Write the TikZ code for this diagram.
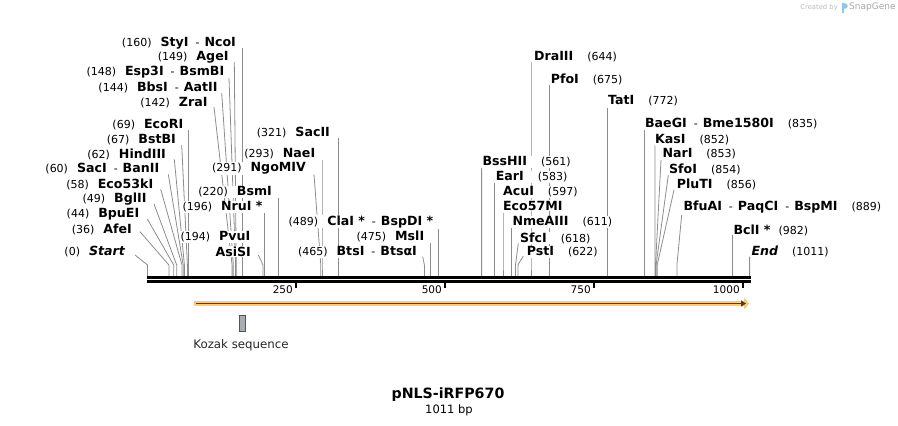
\documentclass[tikz,border=0pt]{standalone}
\usepackage{fontspec}
\setmainfont{DejaVu Sans}
\usetikzlibrary{arrows.meta}
\definecolor{linegray}{RGB}{140,140,140}
\definecolor{featorange}{RGB}{250,204,122}
\definecolor{featdark}{RGB}{80,62,40}
\definecolor{kozakfill}{RGB}{168,173,179}
\definecolor{kozakdraw}{RGB}{80,84,88}
\definecolor{wmgray}{RGB}{185,185,185}
\definecolor{wmblue}{RGB}{140,200,235}
\pgfdeclarelayer{bg}
\pgfsetlayers{bg,main}
\newcommand\nm[1]{{\fontsize{12.6}{14}\selectfont\bfseries #1}}
\newcommand\nmi[1]{{\fontsize{12.6}{14}\selectfont\bfseries\itshape #1}}
\newcommand\nb[1]{{\fontsize{11}{13}\selectfont (#1)}}
\newcommand\lgap{\hspace{9pt}}
\newcommand\rgap{\hspace{14pt}}
\newcommand\sepd{\hspace{7pt}{\fontsize{11}{13}\selectfont -}\hspace{5pt}}
\begin{document}
\begin{tikzpicture}[x=1pt,y=-1pt,
  conn/.style={draw=linegray,line width=0.8pt},
  lab/.style={fill=white,inner sep=0.6pt},
  labl/.style={lab,anchor=east},
  labr/.style={lab,anchor=west},
  ticklab/.style={anchor=east,inner sep=0pt,font=\fontsize{10.5}{12}\selectfont}]
\useasboundingbox (0,0) rectangle (898,426);
% site coordinates
\coordinate (bar) at (0,276);
\foreach \n/\x in {0/147.5,36/168.9,44/173.7,49/176.7,58/182.0,60/183.2,62/184.4,67/187.4,69/188.6,
  142/232.1,144/233.3,148/235.6,149/236.2,160/242.8,194/263.0,196/264.2,220/278.5,291/320.8,293/322.0,
  321/338.7,465/424.4,475/430.4,489/438.7,561/481.6,583/494.7,597/503.0,611/511.4,618/515.5,622/517.9,
  644/531.0,675/549.5,772/607.2,835/644.7,852/654.9,853/655.5,854/656.1,856/657.2,889/676.9,982/732.3,1011/749.6}
  {\coordinate (s\n) at (\x,265);}
% left labels
\node[labl] (L1) at (236.7,42.7) {\nb{160}\lgap\nm{StyI}\sepd\nm{NcoI}};
\node[labl] (L2) at (229.3,57.3) {\nb{149}\lgap\nm{AgeI}};
\node[labl] (L3) at (225,72.3) {\nb{148}\lgap\nm{Esp3I}\sepd\nm{BsmBI}};
\node[labl] (L4) at (218.3,87.3) {\nb{144}\lgap\nm{BbsI}\sepd\nm{AatII}};
\node[labl] (L5) at (208.3,102.3) {\nb{142}\lgap\nm{ZraI}};
\node[labl] (L6) at (184,124.3) {\nb{69}\lgap\nm{EcoRI}};
\node[labl] (L7) at (176.7,139.3) {\nb{67}\lgap\nm{BstBI}};
\node[labl] (L8) at (166.7,154) {\nb{62}\lgap\nm{HindIII}};
\node[labl] (L9) at (160,169) {\nb{60}\lgap\nm{SacI}\sepd\nm{BanII}};
\node[labl] (L10) at (154,184) {\nb{58}\lgap\nm{Eco53kI}};
\node[labl] (L11) at (147.3,199) {\nb{49}\lgap\nm{BglII}};
\node[labl] (L12) at (140,214) {\nb{44}\lgap\nm{BpuEI}};
\node[labl] (L13) at (132.7,229) {\nb{36}\lgap\nm{AfeI}};
\node[labl] (L14) at (125.7,251.7) {\nb{0}\lgap\nmi{Start}};
\node[labl] (M1) at (330.7,132.3) {\nb{321}\lgap\nm{SacII}};
\node[labl] (M2) at (316,154) {\nb{293}\lgap\nm{NaeI}};
\node[labl] (M3) at (306.7,168.3) {\nb{291}\lgap\nm{NgoMIV}};
\node[labl] (M4) at (272.7,191.7) {\nb{220}\lgap\nm{BsmI}};
\node[labl] (M5) at (263.3,206.7) {\nb{196}\lgap\nm{NruI *}};
\node[labl] (M6) at (251,236.7) {\nb{194}\lgap\nm{PvuI}};
\node[labl] (M6b) at (251.7,251.3) {\nm{AsiSI}};
\node[labl] (M7) at (434,221.7) {\nb{489}\lgap\nm{ClaI *}\sepd\nm{BspDI *}};
\node[labl] (M8) at (425,236.7) {\nb{475}\lgap\nm{MslI}};
\node[labl] (M9) at (417.7,251.7) {\nb{465}\lgap\nm{BtsI}\sepd\nm{BtsαI}};
% right labels
\node[labr] (R1) at (533.3,56.7) {\nm{DraIII}\rgap\nb{644}};
\node[labr] (R2) at (550,79) {\nm{PfoI}\rgap\nb{675}};
\node[labr] (R3) at (607.3,101) {\nm{TatI}\rgap\nb{772}};
\node[labr] (R4) at (644.3,123.3) {\nm{BaeGI}\sepd\nm{Bme1580I}\rgap\nb{835}};
\node[labr] (R5) at (654.3,140) {\nm{KasI}\rgap\nb{852}};
\node[labr] (R6) at (661.7,154) {\nm{NarI}\rgap\nb{853}};
\node[labr] (R7) at (668.3,169.3) {\nm{SfoI}\rgap\nb{854}};
\node[labr] (R8) at (676,184) {\nm{PluTI}\rgap\nb{856}};
\node[labr] (R9) at (682.7,207.3) {\nm{BfuAI}\sepd\nm{PaqCI}\sepd\nm{BspMI}\rgap\nb{889}};
\node[labr] (R10) at (732.7,230.7) {\nm{BclI *}\hspace{8pt}\nb{982}};
\node[labr] (R11) at (750.7,251.7) {\nmi{End}\rgap\nb{1011}};
\node[labr] (R12) at (481.7,161.7) {\nm{BssHII}\rgap\nb{561}};
\node[labr] (R13) at (495,176.7) {\nm{EarI}\rgap\nb{583}};
\node[labr] (R14) at (502.3,191.7) {\nm{AcuI}\rgap\nb{597}};
\node[labr] (R14b) at (502.3,205.7) {\nm{Eco57MI}};
\node[labr] (R15) at (511.7,221.7) {\nm{NmeAIII}\rgap\nb{611}};
\node[labr] (R16) at (519.3,238.3) {\nm{SfcI}\rgap\nb{618}};
\node[labr] (R17) at (526,251.7) {\nm{PstI}\rgap\nb{622}};
% connectors (behind labels)
\begin{pgfonlayer}{bg}
\foreach \L/\dx/\dy/\s in {L1/6.1/5.3/160,L2/5/4.7/149,L3/4/5.7/148,L4/3.4/5.7/144,L5/5.7/4.7/142,
  L6/4.6/5.7/69,L7/5/5.7/67,L8/7.6/5.3/62,L9/8.3/5.3/60,L10/6.7/5.3/58,L11/6.7/5/49,L12/7.3/5/44,
  L13/7.3/2.7/36,L14/9.3/3.3/0,M1/8/5.7/321,M2/6/6/293,M3/7.3/6/291,M4/5.8/6.3/220,M5/0.9/6.3/196,
  M6b/6.6/3.7/194,M7/4.7/7.3/489,M8/5.4/6.6/475,M9/5/5/465}
  {\draw[conn] ([xshift=\dx pt,yshift=-\dy pt]\L.east) -- (s\s) -- (s\s |- bar);}
\foreach \R/\dx/\dy/\s in {R1/-2.3/5/644,R2/-0.5/6/675,R3/-0.1/7/772,R4/0.4/7/835,R5/0.6/5/852,
  R6/-0.7/6/853,R7/0/5.7/854,R8/-2/6/856,R9/-1/7.7/889,R10/-0.4/4.3/982,R11/-1.1/5/1011,
  R12/-0.1/6.6/561,R13/-0.3/6.6/583,R14b/0.7/7.6/597,R15/-0.3/6.6/611,R16/-1/5/618,R17/-2.7/4.3/622}
  {\draw[conn] ([xshift=\dx pt,yshift=-\dy pt]\R.west) -- (s\s) -- (s\s |- bar);}
\end{pgfonlayer}
% sequence bar
\draw[line width=3pt] (147,277.5) -- (750.5,277.5);
\draw[line width=2.4pt] (147,281.6) -- (750.5,281.6);
% ticks
\foreach \x/\t in {296.2/250,445.2/500,594.1/750,743.1/1000}{
  \draw[line width=1.8pt] (\x,281) -- (\x,288);
  \node[ticklab] at (\x-3.2,289.5) {\t};
}
% feature arrow
\draw[featorange,line width=5.5pt,-{Triangle[length=5pt,width=12pt]}] (194,303.5) -- (749,303.5);
\draw[featdark,line width=1.7pt,-{Triangle[length=5pt,width=6pt]}] (195.5,303.5) -- (746,303.5);
% Kozak
\node[draw=kozakdraw,fill=kozakfill,line width=0.8pt,minimum width=6pt,minimum height=16.5pt,inner sep=0pt] (koz) at (242.3,323.3) {};
\node[font=\fontsize{11.8}{13}\selectfont,text=black!85] (kozl) at (241,345) {Kozak sequence};
% title
\node[font=\fontsize{14.2}{16}\selectfont\bfseries] (title) at (448,395) {pNLS-iRFP670};
\node[font=\fontsize{11.5}{13}\selectfont] (bp) at (449,410) {1011 bp};
% watermark
\node[anchor=east,inner sep=0pt,text=wmgray,font=\fontsize{6.8}{8}\selectfont] (wm1) at (838,7.5) {Created by};
\fill[wmblue] (842,2.5) rectangle (844.2,12.5);
\fill[wmblue] (844.2,2.5) .. controls (848.5,2.5) and (848.5,8.5) .. (844.2,8.5) -- cycle;
\node[anchor=west,inner sep=0pt,text=wmgray!90!black,font=\fontsize{9}{10}\selectfont] (wm2) at (849,7.5) {SnapGene};
\end{tikzpicture}
\end{document}
